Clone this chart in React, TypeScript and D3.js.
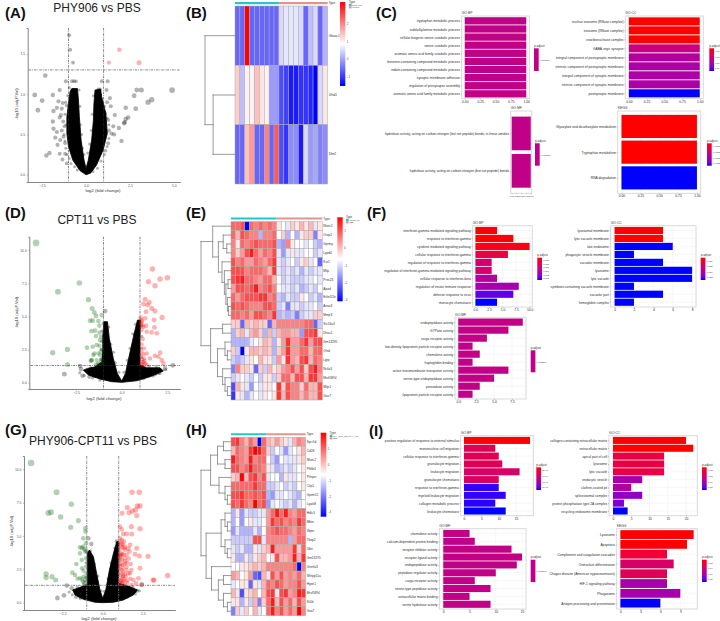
import * as d3 from 'd3';
import { useEffect, useRef } from 'react';

const FONT = '"Liberation Sans", Arial, sans-serif';

// ---------- volcano data: [log2 fold change, -log10 adj.P] ----------
const aCloud = [[0,0],[-0.34,0.05],[-0.75,0.18],[-1,0.35],[-1.09,0.51],[-1.09,0.72],[-1,0.88],[-0.91,1.03],[-0.81,1.07],[-0.49,1.07],[-0.43,0.93],[-0.38,0.72],[-0.28,0.43],[-0.11,0.18],[0,0.08],[0.13,0.18],[0.32,0.43],[0.42,0.68],[0.45,0.88],[0.51,1.05],[0.83,1.06],[0.89,0.97],[1.13,0.76],[1.21,0.51],[0.98,0.31],[0.6,0.12],[0.26,0.02]];
const aEdge = [[-1.2,0.75],[-1.15,0.62],[-1.25,0.5],[-1.2,0.42],[-1.15,0.33],[-1.1,0.25],[-0.95,0.2],[-0.85,0.14],[-0.65,0.1],[-0.5,0.06],[-1.15,0.9],[-1.05,0.98],[-0.95,1.08],[-0.4,1.05],[-0.35,0.85],[-0.32,0.62],[-0.25,0.5],[-0.2,0.33],[-0.12,0.25],[0.1,0.27],[0.2,0.38],[0.3,0.55],[0.35,0.75],[0.42,0.98],[0.95,0.9],[1.05,0.85],[1.2,0.7],[1.3,0.62],[1.3,0.45],[1.2,0.35],[1.05,0.25],[0.85,0.17],[0.65,0.08],[0.4,0.04]];
const aGray = [[-0.96,1.73],[-0.9,1.55],[-0.74,1.39],[-2.32,1.23],[-1.15,1.16],[-0.8,1.16],[-0.68,1.16],[-0.57,1.16],[0.9,1.16],[1.23,1.16],[-1.5,1.05],[-2.92,0.99],[-2.5,0.92],[-2.74,0.8],[-1.89,0.99],[-1.57,0.91],[-1.32,0.89],[-1.66,0.83],[-1.85,0.79],[-1.38,0.82],[-1.1,0.86],[-1.43,0.74],[-1.5,0.71],[-1.89,0.66],[-1.85,0.57],[-1.75,0.46],[-1.62,0.37],[-2.26,0.24],[-2.08,0.27],[-1.5,0.26],[-1.34,0.19],[-1.19,0.26],[-1.1,0.14],[-1.66,0.53],[-1.38,0.55],[-1.28,0.47],[-1.47,0.43],[-1.19,0.39],[-1.3,0.66],[-1.22,0.6],[2.89,1.05],[3.15,1.05],[4.9,1.05],[2.74,0.98],[3.74,0.93],[3.53,0.9],[2.26,0.83],[2.83,0.82],[2.4,0.71],[2.26,0.69],[2.2,0.65],[2.17,0.64],[1.64,0.74],[1.41,0.85],[1.87,0.58],[2.02,0.42],[1.36,0.95],[1.17,1.05],[0.7,1.06],[0.8,1.06],[1.08,0.76],[1.26,0.68],[1.55,0.6],[1.45,0.51],[1.26,0.39],[1.6,0.5],[1.1,0.3],[1.3,0.55],[1.2,0.9]];
const aRed = [[1.9,1.55],[1.3,1.39],[3.02,1.39]];

const dCloud = [[0,0.03],[-0.55,0.08],[-1.19,0.28],[-1.82,0.58],[-2.1,0.95],[-1.88,1.08],[-1.46,1.2],[-1.09,1.58],[-1.04,2.59],[-1.04,3.54],[-0.97,4.6],[-0.78,4.6],[-0.68,3.34],[-0.46,1.83],[-0.24,0.7],[0,0.13],[0.2,0.7],[0.42,2.09],[0.64,3.47],[0.86,4.72],[1.02,4.72],[1,3.34],[1,1.33],[1.37,1.13],[2.1,1.13],[2.28,0.88],[1.55,0.45],[0.82,0.15]];
const dEdge = [[-2.3,0.75],[-2.05,0.55],[-1.6,0.35],[-1.2,0.18],[-1.7,1.15],[-1.3,1.4],[-1.15,1.75],[-1.12,2.5],[-1.12,3.1],[-1.1,3.9],[-0.7,4.2],[-0.6,2.9],[-0.45,2.3],[-0.35,1.5],[-0.15,0.8],[0.12,0.8],[0.3,1.7],[0.45,2.6],[0.6,3.7],[0.75,4.4],[1.08,4.3],[1.1,3.5],[1.08,2.6],[1.1,1.9],[1.5,1.25],[1.9,1.2],[2.4,1.0],[2.1,0.7],[1.7,0.5],[1.2,0.3]];
const dGray = [[-3.14,0.65],[-2.28,1.26],[-2.23,1.03],[-2.15,0.53],[-1.77,0.45],[-0.91,5.4],[-0.97,4.47],[2.79,1.31],[2.37,1.08],[1.82,0.63],[0.73,3.59],[-0.86,3.47],[-1.5,0.5],[2.0,0.75],[0.9,4.1]];
const dGreen = [[-4.69,10.53],[-3.49,6.86],[-2.32,7.51],[-1.82,6.26],[-3.78,2.26],[-2.97,2.51],[-2.97,1.38],[-1.62,5.6],[-1.5,5.3],[-1.41,5.03],[-1.09,5.1],[-1.73,4.67],[-1.59,4.67],[-1.28,4.65],[-1.22,4.3],[-1.66,3.89],[-1.46,3.92],[-1.22,3.77],[-1.41,3.52],[-1.13,3.47],[-1.19,3.22],[-1.9,2.64],[-1.59,2.71],[-1.37,2.84],[-1.22,2.79],[-1.5,2.21],[-1.28,2.21],[-1.13,2.34],[-1.64,1.71],[-1.7,1.66],[-1.37,1.71],[-1.15,1.58],[-1.19,2.09],[-1.55,2.09],[-1.41,1.38],[-1.28,1.46],[-1.13,1.78],[-1.65,1.68],[-1.1,2.5],[-1.05,1.45]];
const dRed = [[1.68,8.57],[2.5,7.91],[2.1,7.81],[1.46,7.61],[1.82,7.31],[1.28,6.28],[1.51,6.06],[1.19,5.93],[1.41,5.85],[1.64,5.6],[1.82,5.4],[1.33,5.35],[1.04,4.9],[1.28,4.85],[2.21,4.92],[1.77,4.72],[1.09,4.6],[1.33,4.3],[1.19,4.22],[1.79,4.17],[1.09,3.97],[1.37,3.84],[1.64,3.79],[1.92,3.72],[1.09,2.89],[1.22,2.59],[1.09,2.34],[1.37,2.21],[2.1,2.26],[1.82,2.04],[2.01,1.96],[1.22,1.83],[1.55,1.83],[2.19,1.71],[2.28,1.46],[1.09,1.58],[1.28,1.46],[1.04,1.33],[1.19,1.33],[1.37,1.36],[1.1,4.3],[1.15,3.3],[1.05,2.05],[1.18,1.55],[1.08,4.7],[1.06,4.45],[1.12,1.75],[1.2,2.15],[1.1,1.42],[1.25,1.65]];

const gCloud = [[0,0],[-0.48,0.03],[-1.21,0.25],[-1.73,0.58],[-1.88,0.95],[-1.42,1.15],[-0.96,1.4],[-0.96,2.45],[-0.96,3.7],[-0.83,3.95],[-0.58,3.45],[-0.38,2.2],[-0.17,0.95],[0,0.33],[0.19,0.95],[0.42,2.45],[0.67,3.7],[0.88,4.58],[1.02,4.58],[1,1.45],[1.6,1.25],[2.17,0.95],[1.92,0.58],[1.29,0.2],[0.67,0.03]];
const gEdge = [[-2.1,0.8],[-1.9,0.6],[-1.4,0.3],[-1.6,1.2],[-1.2,1.4],[-1.02,1.9],[-1.05,3],[-1,3.8],[-0.75,3.9],[-0.5,2.9],[-0.3,2],[-0.1,0.9],[0.1,0.85],[0.33,1.8],[0.52,3],[0.75,4.1],[1.9,1.15],[2.3,0.9],[2.05,0.65],[1.55,0.4],[1,0.2]];
const gGray = [[-2.83,0.35],[-2.42,0.55],[-1.67,0.43],[-1.42,0.45],[-2.25,1.28],[-1.94,1.08],[-0.71,4.4],[-0.9,4.83],[2.13,0.9],[1.5,0.58],[0.88,4.58],[2.44,1.33]];
const gGreen = [[-4.48,10.47],[-2.88,8.28],[-1.96,7.38],[-3.4,6.73],[-3.23,6.78],[-2.63,6.43],[-1.52,6.15],[-2,5.65],[-1.08,5.58],[-1.08,5.33],[-1.21,4.83],[-1.42,4.15],[-1.21,4.2],[-1.04,4.45],[-1.42,3.7],[-1.1,3.83],[-1.65,2.9],[-1.31,3.2],[-1.04,3.33],[-1.29,2.58],[-1.04,2.7],[-1.9,2.25],[-1.73,2.08],[-1.58,1.8],[-1.42,1.83],[-1.21,1.95],[-1.04,2.2],[-1.25,1.58],[-1.04,1.58],[-3.54,2.15],[-3.54,1.88],[-3.17,1.95],[-2.94,1.7],[-1.3,4.1],[-1.15,4.0],[-1.02,3.9],[-1.1,1.7],[-1.15,1.5],[-1.05,1.9],[-1.3,1.75],[-1.2,2.4]];
const gRed = [[1.83,8.28],[2.29,8.28],[2.17,7.25],[2.33,7.25],[1.54,7.13],[2.06,6.95],[1.85,6.88],[1.65,6.75],[1.21,6.7],[2.13,6.53],[1.08,5.7],[1.19,5.5],[1.79,5.7],[2.33,5.55],[1.29,5.15],[1.81,5.15],[1.5,5.15],[1.08,4.83],[1.33,4.58],[1.71,4.33],[1.19,4.2],[2.13,4.08],[1.4,3.95],[1.67,3.83],[2.02,3.63],[2.29,3.5],[2.83,3.48],[1.13,3.7],[1.4,3.33],[1.08,3.2],[1.75,2.9],[1.5,2.7],[1.19,2.45],[1.79,2.45],[2.33,2.58],[1.4,2.15],[1.71,2.2],[1.25,1.95],[1.92,1.7],[2.23,1.83],[3.21,1.7],[3.15,1.7],[4.06,2.03],[1.08,1.7],[1.5,1.65],[2.44,1.38],[1.81,1.33],[1.19,1.45],[1.4,1.33],[2.08,1.45],[1.1,1.5],[1.2,1.8],[1.3,2.0],[1.15,2.2],[1.25,2.6],[1.1,2.9],[1.35,2.9],[1.2,3.2],[1.5,3.0],[1.15,3.5],[1.3,3.6],[1.1,4.0],[1.25,4.4],[1.4,4.2],[1.6,2.2],[1.55,1.5],[1.3,1.6],[1.05,2.5],[1.05,3.4],[1.2,4.7],[1.08,1.4],[1.14,1.65],[1.24,1.5],[1.36,1.75],[1.45,1.95],[1.12,2.05],[1.28,2.3],[1.48,2.45],[1.08,2.75],[1.22,2.85],[1.4,3.1],[1.62,3.3],[1.08,3.55],[1.22,3.65],[1.5,3.6],[1.15,4.35],[1.33,4.1],[1.08,4.55],[1.6,4.05],[1.72,1.8]];

// ---------- heatmap data, -10 (blue) .. 10 (red) ----------
const bGenes = ['Gbaxc1', 'Ufsd1', 'Dlm2'];
const bCells = [
  [-6,-6,10,-6,-6,-6,-6,-6,-6,-1.5,-1,-1,-1,-1.5,-6,-2.5,-1.5,-6,-3],
  [2,-2.5,0.5,0.5,2.5,1,0.5,-4,-4,-7,-7.5,-9,-9,-8,-8,-8.5,-10,-1.5,1],
  [-6,-6,2.5,4,-6,-6,5,-6,6.5,-7,-8,-4.5,-4.5,-9,-1.5,-4,-3.5,-5,-4.5],
];
const eGenes = ['Nfatc2','Otop1','Gprmy','Lypd4','Ksr1','Mlip','Prss23','Apod','Erlin1l2e','Anxa3','Mmp3','Slc16a3','Dhac1','Gm13295','Ofsd','Lgtp','Nr4a3','Mrvl5894','Mlip1','Gas7'];
const eCells = [
  [6,6,7,-10,6,5,6,5,6,5,1,0,-1,2,1,3,1,3,-1,1],
  [6,3,7,6,5,5,-3,5,5,6,0,2,-3,0,-3,1,2,2,-5,1],
  [5,1,6,5,6,7,6,6,6,7,-3,-4,5,1,0,0,-1,0,-2,-3],
  [5,2,4,7,9,6,4,6,5,7,-1,-4,-1,1,-1,-1,0,0,-2,-1],
  [7,5,6,4,4,6,5,4,6,8,-1,-2,-1,0,-2,1,2,-1,0,-6],
  [7,7,7,5,6,6,6,5,3,8,-1,-2,-1,-2,-1,-3,-1,-2,-1,-1],
  [7,8,9,6,6,5,4,6,6,3,0,-2,-1,-2,-2,-2,-1,-1,0,-1],
  [4,7,7,6,7,9,5,6,7,5,0,-1,-1,-2,-1,-3,-2,-1,-2,0],
  [6,4,6,7,7,7,8,8,5,6,-2,-3,-1,-2,-2,1,0,-2,-1,-3],
  [7,6,7,6,5,5,5,7,7,6,-2,-1,-5,-1,-1,-2,-1,-1,0,-2],
  [6,6,5,6,4,7,7,6,5,8,-3,-2,-3,-2,-5,-2,-1,-1,2,2],
  [2,2,-6,3,2,3,2,2,-6,3,5,5,5,5,5,5,6,6,-6,-2],
  [-3,2,3,-1,3,4,2,-3,3,-2,3,4,4,3,3,-4,7,7,8,1],
  [-3,-3,-3,-3,-1,0,1,3,2,-3,1,4,8,4,4,6,8,4,7,7],
  [2,-2,-10,1,3,3,2,3,2,-3,2,4,8,4,4,6,6,3,6,6],
  [-2,-3,-2,-1,1,0,3,1,1,-2,4,1,8,4,3,7,8,3,6,5],
  [-5,5,2,2,1,-6,2,-2,3,1,2,4,5,7,4,7,2,7,9,5],
  [-2,-1,0,-1,-2,0,-2,1,1,-2,2,6,6,3,7,7,3,8,8,4],
  [-7,3,1,-1,-4,0,-1,1,1,0,8,2,7,5,5,2,6,3,3,7],
  [-8,1,-1,-3,-1,0,-1,1,0,1,8,3,7,5,5,3,5,3,3,7],
];
const hGenes = ['Sprr1d','Cd28','Nfatc2','Pfkfb3','Ptlnpcr','Cilp1','Gprm12','Lgals8','Hdlc3','Mbtn','Vbpn','Tbxp2','Ubtr','Gm13295','Utsnfa3','Slfnpp11a','Hgsn1','Mrvl5894','Ifit1b','Gas7'];
const hCells = [
  [7,8,5,3,6,4,-10,6,3,2,4,2,1,-1,3,5,4],
  [3,6,5,4,8,10,9,6,2,-2,0,-1,-4,-1,0,1,3],
  [9,6,5,4,9,5,6,6,0,-2,-4,0,-1,-1,-1,1,2],
  [7,7,5,6,9,6,6,5,1,-1,-3,-2,-1,-2,-1,0,1],
  [2,3,10,3,7,8,5,7,-1,0,0,-3,1,-1,-1,0,1],
  [6,6,6,6,6,8,6,6,-2,-2,-1,0,-2,-1,-2,0,1],
  [7,7,8,6,6,7,6,7,-3,-4,-1,-1,0,-1,-2,-3,0],
  [7,6,8,6,5,10,6,7,-4,-1,0,-1,-2,-1,-3,-1,0],
  [-3,1,-4,-1,-2,-2,-1,-1,4,6,9,6,9,5,4,6,6],
  [-3,0,-4,0,1,-1,-1,0,4,8,6,7,5,6,5,8,6],
  [-4,-1,-3,-3,-3,-1,-3,0,5,6,7,6,6,5,4,6,5],
  [-2,-2,-2,-2,-2,7,7,-1,5,5,5,5,5,-3,4,6,6],
  [-1,-2,-1,-3,-3,1,-1,2,3,9,4,4,4,4,8,2,6],
  [1,-3,-3,1,-2,1,2,3,0,1,7,3,3,4,9,3,8],
  [0,0,1,1,2,3,2,3,5,5,5,5,5,5,6,-10,5],
  [4,3,0,1,4,-6,-7,3,1,7,4,7,4,5,4,6,3],
  [-1,0,1,1,-6,1,-1,3,6,5,7,6,4,5,5,7,4],
  [3,1,-7,1,2,3,0,3,7,8,1,7,8,4,5,9,8],
  [1,1,-3,1,-2,3,-5,2,6,9,3,7,4,6,3,7,4],
  [-5,2,-1,2,0,3,-1,0,6,9,5,7,4,6,4,10,5],
];
// row dendrograms: [height, left, right], a number is a row
const bTree = [1, 0, [0.73, 1, 2]];
const eTree = [1,
  [0.61, 0, [0.42, [0.26, 1, [0.14, 2, 3]], [0.3, 4, [0.22, 5, [0.17, [0.1, 6, 7], [0.12, 8, [0.08, 9, 10]]]]]]],
  [0.68, [0.28, 11, 12], [0.45, [0.2, 13, [0.12, 14, 15]], [0.28, 16, [0.2, 17, [0.12, 18, 19]]]]],
];
const hTree = [1,
  [0.68, [0.45, [0.25, 0, 1], [0.2, 2, 3]], [0.4, 4, [0.2, 5, [0.12, 6, 7]]]],
  [0.83, [0.33, [0.2, 8, [0.12, 9, 10]], [0.2, 11, [0.12, 12, 13]]], [0.65, 14, [0.42, [0.25, 15, 16], [0.25, 17, [0.12, 18, 19]]]]],
];

// ---------- enrichment bars: terms, counts, p.adjust rank (0 blue .. 1 red) ----------
const cBpTerms = ['tryptophan metabolic process','indolalkylamine metabolic process','cellular biogenic amine catabolic process','amine catabolic process','aromatic amino acid family catabolic process','benzene-containing compound metabolic process','indole-containing compound metabolic process','synaptic membrane adhesion','regulation of presynapse assembly','aromatic amino acid family metabolic process'];
const cBpCounts = [1,1,1,1,1,1,1,1,1,1];
const cBpAdjust = [0.5,0.5,0.5,0.5,0.5,0.5,0.5,0.5,0.5,0.5];
const cCcTerms = ['nuclear exosome (RNase complex)','exosome (RNase complex)','exoribonuclease complex','GABA-ergic synapse','integral component of postsynaptic membrane','intrinsic component of postsynaptic membrane','integral component of synaptic membrane','intrinsic component of synaptic membrane','postsynaptic membrane'];
const cCcCounts = [1,1,1,1,1,1,1,1,1];
const cCcAdjust = [1,1,1,0.55,0.42,0.38,0.38,0.38,0];
const cMfTerms = ['hydrolase activity, acting on carbon-nitrogen (but not peptide) bonds, in linear amides','hydrolase activity, acting on carbon-nitrogen (but not peptide) bonds'];
const cMfCounts = [1,1];
const cMfAdjust = [0.5,0.5];
const cKeggTerms = ['Glyoxylate and dicarboxylate metabolism','Tryptophan metabolism','RNA degradation'];
const cKeggCounts = [1,1,1];
const cKeggAdjust = [1,1,0];

const fBpTerms = ['interferon-gamma mediated signaling pathway','response to interferon-gamma','cytokine mediated signaling pathway','cellular response to interferon-gamma','regulation of response to interferon-gamma','regulation of interferon-gamma mediated signaling pathway','cellular response to interferon-beta','regulation of innate immune response','defense response to virus','monocyte chemotaxis'];
const fBpCounts = [4,7,10,6,3,3,4,8,7,4];
const fBpAdjust = [1,1,0.96,0.78,0.62,0.62,0.4,0.35,0.1,0];
const fCcTerms = ['lysosomal membrane','lytic vacuole membrane','late endosome','phagocytic vesicle membrane','vacuolar membrane','lysosome','lytic vacuole','symbiont-containing vacuole membrane','vacuolar part','hemoglobin complex'];
const fCcCounts = [5,5,6,2,5,8,8,2,5,2];
const fCcAdjust = [1,1,0,0,0,0,0,0,0,0];
const fMfTerms = ['endopeptidase activity','GTPase activity','cargo receptor activity','low-density lipoprotein particle receptor activity','chemokine activity','haptoglobin binding','active transmembrane transporter activity','serine-type endopeptidase activity','peroxidase activity','lipoprotein particle receptor activity'];
const fMfCounts = [9,7,4,2,3,2,7,5,3,2];
const fMfAdjust = [0.5,0.5,0.5,0.5,0.5,0.5,0.5,0.5,0.5,0.5];

const iBpTerms = ['positive regulation of response to external stimulus','mononuclear cell migration','cellular response to interferon-gamma','granulocyte migration','leukocyte migration','granulocyte chemotaxis','response to interferon-gamma','myeloid leukocyte migration','collagen metabolic process','leukocyte chemotaxis'];
const iBpCounts = [19,9,10,11,16,10,10,12,9,12];
const iBpAdjust = [1,0.72,0.72,0.72,0.66,0.68,0.03,0.03,0.02,0];
const iCcTerms = ['collagen-containing extracellular matrix','extracellular matrix','apical part of cell','lysosome','lytic vacuole','endocytic vesicle','clathrin-coated pit','spliceosomal complex','protein phosphatase type 2A complex','recycling endosome membrane'];
const iCcCounts = [20,22,14,14,14,8,5,8,3,4];
const iCcAdjust = [1,1,0.8,0.8,0.8,0.35,0.4,0.25,0.18,0];
const iMfTerms = ['chemokine activity','calcium-dependent protein binding','enzyme inhibitor activity','receptor ligand activity','endopeptidase activity','peptidase regulator activity','cargo receptor activity','serine-type peptidase activity','extracellular matrix binding','serine hydrolase activity'];
const iMfCounts = [5,6,13,15,14,10,6,9,5,9];
const iMfAdjust = [0.5,0.5,0.5,0.5,0.5,0.5,0.5,0.5,0.5,0.5];
const iKeggTerms = ['Lysosome','Apoptosis','Complement and coagulation cascades','Osteoclast differentiation','Chagas disease (American trypanosomiasis)','HIF-1 signaling pathway','Phagosome','Antigen processing and presentation'];
const iKeggCounts = [11,10,7,8,7,7,9,6];
const iKeggAdjust = [1,1,0.85,0.65,0.72,0.35,0.35,0];

const text = (g: any, x: number, y: number, s: string, size: number, opts: any = {}) =>
  g.append('text').attr('x', x).attr('y', y).attr('font-family', FONT).attr('font-size', size)
    .attr('fill', opts.fill || '#222').attr('font-weight', opts.weight || 'normal')
    .attr('text-anchor', opts.anchor || 'start').attr('transform', opts.rotate ? `rotate(${opts.rotate} ${x} ${y})` : null)
    .text(s);

function drawVolcano(svg: any, o: any) {
  const g = svg.append('g');
  const x = d3.scaleLinear().domain(o.xDomain).range([o.box[0], o.box[1]]);
  const y = d3.scaleLinear().domain(o.yDomain).range([o.box[3], o.box[2]]);
  const r = d3.scaleSqrt().domain([0, 6]).range([1, 3]);
  const line = d3.line().x((d: any) => x(d[0])).y((d: any) => y(d[1])).curve(d3.curveLinearClosed);

  const dots = (pts: any[], color: string, fixed?: number) => g.append('g').selectAll('circle').data(pts).join('circle')
    .attr('cx', (d: any) => x(d[0])).attr('cy', (d: any) => y(d[1]))
    .attr('r', (d: any) => fixed || r(Math.abs(d[0]) + d[1] / 3))
    .attr('fill', color).attr('fill-opacity', 0.3);

  // speckled edge, then the dense black mass of points
  dots(o.edge, '#000', 1.5);
  g.append('path').attr('d', line(o.cloud)).attr('fill', '#000')
    .attr('stroke', '#000').attr('stroke-width', 0.8).attr('stroke-linejoin', 'round')
    .attr('filter', 'url(#soft)');

  dots(o.gray, '#000');
  dots(o.green || [], '#006400');
  dots(o.red, '#ff0000');

  // threshold lines
  const rule = (x1: number, y1: number, x2: number, y2: number) => g.append('line')
    .attr('x1', x1).attr('y1', y1).attr('x2', x2).attr('y2', y2)
    .attr('stroke', o.ruleColor || '#333').attr('stroke-width', o.ruleWidth || 0.6).attr('stroke-dasharray', '2.5 1 0.8 1');
  rule(x(-1), o.box[2], x(-1), o.box[3]);
  rule(x(1), o.box[2], x(1), o.box[3]);
  rule(o.box[0] + 1, y(1.3), o.box[1], y(1.3));

  const xAxis = g.append('g').attr('transform', `translate(0,${o.box[3]})`)
    .call(d3.axisBottom(x).tickValues(o.xTicks).tickSize(1).tickPadding(1.5).tickFormat(d3.format('.1f')));
  const yAxis = g.append('g').attr('transform', `translate(${o.box[0]},0)`)
    .call(d3.axisLeft(y).tickValues(o.yTicks).tickSize(1).tickPadding(1.5).tickFormat(d3.format('.1f')));
  [xAxis, yAxis].forEach((a) => {
    a.selectAll('text').attr('font-family', FONT).attr('font-size', 3.4).attr('fill', '#555');
    a.selectAll('.tick line').attr('stroke', '#555').attr('stroke-width', 0.4);
    a.select('.domain').attr('stroke', '#777').attr('stroke-width', 0.9);
  });

  text(g, o.xTitle[0], o.xTitle[1], 'log2 (fold change)', 4.4, { anchor: 'middle', fill: '#333' });
  text(g, o.yTitle[0], o.yTitle[1], '-log10 (adj.P.Val)', 4.2, { anchor: 'middle', fill: '#333', rotate: -90 });
  text(g, o.title[0], o.title[1], o.title[2], 12, { anchor: 'middle', fill: '#222' });
}

function drawHeatmap(svg: any, o: any, id: string) {
  const g = svg.append('g');
  const nCols = o.cells[0].length;
  const x = d3.scaleBand().domain(d3.range(nCols) as any).range([o.box[0], o.box[1]]);
  const y = d3.scaleBand().domain(d3.range(o.cells.length) as any).range([o.box[2], o.box[3]]);
  const color = d3.scaleLinear<string>().domain([-10, 0, 10]).range(['#0000ff', '#ffffff', '#ff0000']);

  o.cells.forEach((row: number[], i: number) => {
    g.append('g').selectAll('rect').data(row).join('rect')
      .attr('x', (_: any, j: number) => x(j as any)).attr('y', y(i as any))
      .attr('width', x.bandwidth()).attr('height', y.bandwidth())
      .attr('fill', (d: number) => color(d)).attr('stroke', '#ababab').attr('stroke-width', 0.5);
    text(g, o.box[1] + 1, y(i as any)! + y.bandwidth() / 2 + 1, o.genes[i], 3.2, { fill: '#333' });
  });

  // annotation strip
  const split = x(o.split as any)!;
  g.append('rect').attr('x', o.box[0]).attr('y', o.strip[0]).attr('width', split - o.box[0]).attr('height', o.strip[1] - o.strip[0]).attr('fill', '#22c7c7');
  g.append('rect').attr('x', split).attr('y', o.strip[0]).attr('width', o.box[1] - split).attr('height', o.strip[1] - o.strip[0]).attr('fill', '#e3938e');
  text(g, o.box[1] + 1, o.strip[1], 'Type', 3, { fill: '#333' });

  // row dendrogram
  const h = d3.scaleLinear().domain([0, 1]).range([o.box[0], o.treeLeft]);
  const seg = (x1: number, y1: number, x2: number, y2: number) => g.append('line')
    .attr('x1', x1).attr('y1', y1).attr('x2', x2).attr('y2', y2)
    .attr('stroke', '#808080').attr('stroke-width', 0.8).attr('stroke-linecap', 'square');
  const walk = (node: any): any => {
    if (typeof node === 'number') return { y: y(node as any)! + y.bandwidth() / 2, x: h(0) };
    const a = walk(node[1]);
    const b = walk(node[2]);
    const nx = h(node[0]);
    seg(nx, a.y, a.x, a.y);
    seg(nx, b.y, b.x, b.y);
    seg(nx, a.y, nx, b.y);
    return { y: (a.y + b.y) / 2, x: nx };
  };
  walk(o.tree);

  // colour key
  const lg = o.legend;
  const defs = svg.append('defs').append('linearGradient').attr('id', id).attr('x1', 0).attr('x2', 0).attr('y1', 0).attr('y2', 1);
  defs.append('stop').attr('offset', '0').attr('stop-color', '#ff0000');
  defs.append('stop').attr('offset', '0.5').attr('stop-color', '#ffffff');
  defs.append('stop').attr('offset', '1').attr('stop-color', '#0000ff');
  g.append('rect').attr('x', lg.x).attr('y', lg.y0).attr('width', lg.w).attr('height', lg.y1 - lg.y0).attr('fill', `url(#${id})`);
  const ly = d3.scaleLinear().domain(lg.domain).range([lg.y1, lg.y0]);
  const ax = g.append('g').attr('transform', `translate(${lg.x + lg.w},0)`)
    .call(d3.axisRight(ly).tickValues(lg.ticks).tickSize(0).tickPadding(1.5).tickFormat(d3.format('d')));
  ax.select('.domain').remove();
  ax.selectAll('text').attr('font-family', FONT).attr('font-size', 2.8).attr('fill', '#444');

  // Type key
  const t = o.typeKey;
  text(g, t.x, t.y, 'Type', 2.8, { fill: '#333' });
  g.append('rect').attr('x', t.x).attr('y', t.y + 0.8).attr('width', 2.6).attr('height', 2.2).attr('fill', '#22c7c7');
  g.append('rect').attr('x', t.x).attr('y', t.y + 3.2).attr('width', 2.6).attr('height', 2.2).attr('fill', '#e3938e');
  text(g, t.x + 3.2, t.y + 2.9, t.labels[0], 2.2, { fill: '#444' });
  text(g, t.x + 3.2, t.y + 5.3, t.labels[1], 2.2, { fill: '#444' });
}

function drawBars(svg: any, o: any, id: string) {
  const g = svg.append('g');
  const [x0, x1, y0, y1] = o.box;
  const inset = (x1 - x0) * (0.05 / 1.1);
  const x = d3.scaleLinear().domain([0, o.xMax]).range([x0 + inset, x1 - inset]);
  const y = d3.scalePoint<string>().domain(o.terms).range([y0, y1]).padding(0.6);
  const color = d3.interpolateLab('#0000ff', '#ff0000');
  const fmt = o.tickFormat ? d3.format(o.tickFormat) : (d: any) => String(d);

  // grid
  g.append('g').selectAll('line').data(o.ticks).join('line')
    .attr('x1', (d: number) => x(d)).attr('x2', (d: number) => x(d)).attr('y1', y0).attr('y2', y1)
    .attr('stroke', '#ececec').attr('stroke-width', 0.4);
  g.append('g').selectAll('line').data(o.terms).join('line')
    .attr('x1', x0).attr('x2', x1).attr('y1', (d: string) => y(d)).attr('y2', (d: string) => y(d))
    .attr('stroke', '#ececec').attr('stroke-width', 0.4);

  const barH = y.step() * 0.9;
  g.append('g').selectAll('rect').data(o.terms).join('rect')
    .attr('x', x(0)).attr('y', (d: string) => y(d)! - barH / 2)
    .attr('width', (_: any, i: number) => x(o.counts[i]) - x(0)).attr('height', barH)
    .attr('fill', (_: any, i: number) => color(o.adjust[i]));

  g.append('rect').attr('x', x0).attr('y', y0).attr('width', x1 - x0).attr('height', y1 - y0)
    .attr('fill', 'none').attr('stroke', '#d6d6d6').attr('stroke-width', 0.9);

  const xAxis = g.append('g').attr('transform', `translate(0,${y1})`)
    .call(d3.axisBottom(x).tickValues(o.ticks).tickSize(1).tickPadding(0.8).tickFormat(fmt as any));
  const yAxis = g.append('g').attr('transform', `translate(${x0},0)`)
    .call(d3.axisLeft(y).tickSize(1).tickPadding(0.8));
  [xAxis, yAxis].forEach((a) => {
    a.select('.domain').remove();
    a.selectAll('.tick line').attr('stroke', '#555').attr('stroke-width', 0.3);
    a.selectAll('text').attr('font-family', FONT).attr('font-size', 3.3).attr('fill', '#2b2b2b');
  });
  // narrow panel: smaller x tick labels so they stay apart
  if (o.xTickFont) xAxis.selectAll('text').attr('font-size', o.xTickFont);

  text(g, x0, y0 - 1.8, o.title, 3.4, { fill: '#333' });

  // p.adjust key
  const lg = o.legend;
  text(g, lg.x, lg.y0 - 1.5, 'p.adjust', 3, { fill: '#333' });
  const barW = 4.7;
  if (lg.labels.length === 1) {
    g.append('rect').attr('x', lg.x).attr('y', lg.y0).attr('width', barW).attr('height', lg.y1 - lg.y0).attr('fill', color(0.5));
  } else {
    const grad = svg.append('defs').append('linearGradient').attr('id', id).attr('x1', 0).attr('x2', 0).attr('y1', 0).attr('y2', 1);
    d3.range(0, 1.01, 0.1).forEach((t: number) => grad.append('stop').attr('offset', t).attr('stop-color', color(1 - t)));
    g.append('rect').attr('x', lg.x).attr('y', lg.y0).attr('width', barW).attr('height', lg.y1 - lg.y0).attr('fill', `url(#${id})`);
  }
  const ly = d3.scalePoint<string>().domain(lg.labels).range([lg.y0, lg.y1]).padding(0.5);
  const ax = g.append('g').attr('transform', `translate(${lg.x + barW},0)`)
    .call(d3.axisRight(ly).tickSize(0).tickPadding(lg.font ? 0.6 : 1.2));
  ax.select('.domain').remove();
  ax.selectAll('text').attr('font-family', FONT).attr('font-size', lg.font || 2.4).attr('fill', '#333');
}

const App = () => {
  const ref = useRef<SVGSVGElement>(null);

  useEffect(() => {
    const svg = d3.select(ref.current);
    svg.selectAll('*').remove();

    svg.append('defs').append('filter').attr('id', 'soft').attr('x', '-10%').attr('y', '-10%').attr('width', '120%').attr('height', '120%')
      .append('feGaussianBlur').attr('stdDeviation', 0.5);

    // panel letters
    const letters: [string, number, number][] = [
      ['(A)', 5, 18], ['(B)', 186, 18], ['(C)', 376, 18],
      ['(D)', 5, 218], ['(E)', 186, 218], ['(F)', 367, 218],
      ['(G)', 5, 435], ['(H)', 186, 435], ['(I)', 369, 436],
    ];
    letters.forEach(([s, x, y]) => text(svg, x, y, s, 15, { weight: 'bold', fill: '#111' }));

    // volcano panels
    drawVolcano(svg, {
      box: [27.7, 180, 28, 182], xDomain: [-3.32, 5.35], yDomain: [-0.09, 1.82],
      xTicks: [-2.5, 0, 2.5, 5], yTicks: [0, 0.5, 1, 1.5],
      cloud: aCloud, edge: aEdge, gray: aGray, red: aRed,
      title: [97, 12, 'PHY906 vs PBS'], xTitle: [103, 191.5], yTitle: [18, 104],
    });
    drawVolcano(svg, {
      box: [29.3, 180, 236.7, 389], xDomain: [-5.06, 3.19], yDomain: [-0.47, 11],
      xTicks: [-2.5, 0, 2.5], yTicks: [0, 2.5, 5, 7.5, 10],
      cloud: dCloud, edge: dEdge, gray: dGray, green: dGreen, red: dRed,
      title: [97, 224, 'CPT11 vs PBS'], xTitle: [104, 399.5], yTitle: [18, 312.7],
    });
    drawVolcano(svg, {
      box: [24, 175, 456, 610], xDomain: [-4.92, 4.52], yDomain: [-0.55, 11],
      xTicks: [-2.5, 0, 2.5], yTicks: [0, 2.5, 5, 7.5, 10],
      cloud: gCloud, edge: gEdge, gray: gGray, green: gGreen, red: gRed, ruleColor: '#777', ruleWidth: 0.9,
      title: [93, 445, 'PHY906-CPT11 vs PBS'], xTitle: [99, 619.5], yTitle: [13, 531.7],
    });

    // heatmaps
    drawHeatmap(svg, {
      box: [235, 327.7, 6, 184], strip: [2, 4.2], split: 9, treeLeft: 205,
      cells: bCells, genes: bGenes, tree: bTree,
      legend: { x: 340, w: 5.3, y0: 2, y1: 86, domain: [-1.55, 3.23], ticks: [-1, 0, 1, 2] },
      typeKey: { x: 349, y: 3, labels: ['Drug_906', 'Control'] },
    }, 'keyB');
    drawHeatmap(svg, {
      box: [231, 322.3, 221.7, 400], strip: [217.5, 219.5], split: 10, treeLeft: 201,
      cells: eCells, genes: eGenes, tree: eTree,
      legend: { x: 337.3, w: 5.4, y0: 217.3, y1: 301.3, domain: [-3.12, 1.8], ticks: [-3, -2, -1, 0, 1] },
      typeKey: { x: 346, y: 218, labels: ['CPT11_10', 'PBS'] },
    }, 'keyE');
    drawHeatmap(svg, {
      box: [231, 305.7, 437.3, 615.7], strip: [433.3, 435.2], split: 8, treeLeft: 201,
      cells: hCells, genes: hGenes, tree: hTree,
      legend: { x: 320.7, w: 5.6, y0: 432.7, y1: 516.7, domain: [-3.29, 1.98], ticks: [-3, -2, -1, 0, 1] },
      typeKey: { x: 329.7, y: 434, labels: ['PHY_CPT_and_PHY_906', 'PBS'] },
    }, 'keyH');

    // enrichment bars
    const y100 = [0, 0.25, 0.5, 0.75, 1];
    const bars = [
      { title: 'GO:BP', box: [461.7, 529.3, 16, 98.7], terms: cBpTerms, counts: cBpCounts, adjust: cBpAdjust, xMax: 1, ticks: y100, tickFormat: '.2f', legend: { x: 534, y0: 48.3, y1: 71, labels: ['0.017854'] } },
      { title: 'GO:CC', box: [625.3, 703.3, 16, 98.7], terms: cCcTerms, counts: cCcCounts, adjust: cCcAdjust, xMax: 1, ticks: y100, tickFormat: '.2f', legend: { x: 709.3, y0: 48.3, y1: 71, font: 1.9, labels: ['0.018', '0.015', '0.013', '0.010'] } },
      { title: 'GO:MF', box: [510.7, 531.7, 111, 193.3], terms: cMfTerms, counts: cMfCounts, adjust: cMfAdjust, xMax: 1, ticks: y100, tickFormat: '.2f', xTickFont: 2.3, legend: { x: 535, y0: 143.3, y1: 165.7, labels: ['0.017854'] } },
      { title: 'KEGG', box: [617.7, 700.7, 111, 193.3], terms: cKeggTerms, counts: cKeggCounts, adjust: cKeggAdjust, xMax: 1, ticks: y100, tickFormat: '.2f', legend: { x: 707, y0: 143.3, y1: 165.7, labels: ['0.4170', '0.4175', '0.4180', '0.4185'] } },
      { title: 'GO:BP', box: [472.7, 532.3, 225.7, 307], terms: fBpTerms, counts: fBpCounts, adjust: fBpAdjust, xMax: 10, ticks: [0, 2.5, 5, 7.5, 10], tickFormat: '.1f', legend: { x: 537.3, y0: 257.7, y1: 280, labels: ['0.010', '0.008', '0.006', '0.004', '0.002', '0.001'] } },
      { title: 'GO:CC', box: [610.7, 696, 225.7, 307], terms: fCcTerms, counts: fCcCounts, adjust: fCcAdjust, xMax: 8, ticks: [0, 2, 4, 6, 8], legend: { x: 700.7, y0: 257.7, y1: 280, labels: ['0.036', '0.035', '0.034', '0.033'] } },
      { title: 'GO:MF', box: [455, 526, 317.3, 399], terms: fMfTerms, counts: fMfCounts, adjust: fMfAdjust, xMax: 9, ticks: [0, 2.5, 5, 7.5], tickFormat: '.1f', legend: { x: 530.7, y0: 350.3, y1: 372.3, labels: ['0.002584'] } },
      { title: 'GO:BP', box: [460.7, 533.3, 435.7, 515.7], terms: iBpTerms, counts: iBpCounts, adjust: iBpAdjust, xMax: 19, ticks: [0, 5, 10, 15], legend: { x: 536.3, y0: 467.3, y1: 490, labels: ['2e-04', '4e-04', '6e-04', '8e-04'] } },
      { title: 'GO:CC', box: [609, 697.3, 435.7, 515.7], terms: iCcTerms, counts: iCcCounts, adjust: iCcAdjust, xMax: 22, ticks: [0, 5, 10, 15, 20], legend: { x: 702, y0: 467.3, y1: 490, labels: ['0.02', '0.03', '0.04', '0.05'] } },
      { title: 'GO:MF', box: [439.3, 526, 528.7, 609], terms: iMfTerms, counts: iMfCounts, adjust: iMfAdjust, xMax: 15, ticks: [0, 5, 10, 15], legend: { x: 530.7, y0: 559.7, y1: 582, labels: ['0.002790'] } },
      { title: 'KEGG', box: [616.7, 697.3, 528.7, 609], terms: iKeggTerms, counts: iKeggCounts, adjust: iKeggAdjust, xMax: 11, ticks: [0, 3, 6, 9], legend: { x: 702, y0: 559.7, y1: 582, labels: ['0.02', '0.04', '0.06', '0.08'] } },
    ];
    bars.forEach((b, i) => drawBars(svg, b, `padj${i}`));
  }, []);

  return (
    <svg ref={ref} width={720} height={621} viewBox="0 0 720 621"
      style={{ position: 'absolute', left: 0, top: 0, background: '#fff' }} />
  );
};

export default App;
